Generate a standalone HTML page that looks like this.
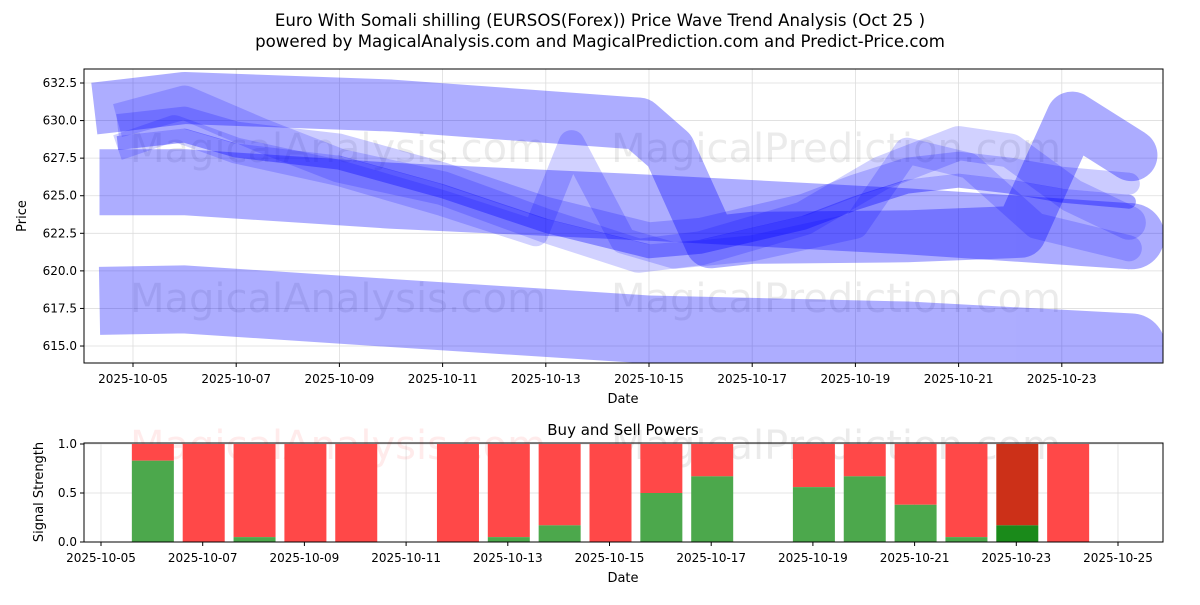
<!DOCTYPE html>
<html><head><meta charset="utf-8"><style>
body{margin:0;background:#fff;}
svg text{font-family:"DejaVu Sans","Liberation Sans",sans-serif;}
</style></head><body>
<svg id="c" width="1200" height="600" xmlns="http://www.w3.org/2000/svg">
<rect width="1200" height="600" fill="#fff"/>
<text x="600" y="26" text-anchor="middle" font-size="16.6">Euro With Somali shilling (EURSOS(Forex)) Price Wave Trend Analysis (Oct 25 )</text>
<text x="600" y="47" text-anchor="middle" font-size="16.6">powered by MagicalAnalysis.com and MagicalPrediction.com and Predict-Price.com</text>
<g id="topg"></g><g id="botg"></g>
</svg>
<script>
// ---- data ----
const topTickDays=[0,2,4,6,8,10,12,14,16,18];
const topTickLabels=["2025-10-05","2025-10-07","2025-10-09","2025-10-11","2025-10-13","2025-10-15","2025-10-17","2025-10-19","2025-10-21","2025-10-23"];
const priceTicks=[615.0,617.5,620.0,622.5,625.0,627.5,630.0,632.5];
const bandLowDays=[-0.65,1,5,10,15,19.35];
const bandLowVals=[618.0,618.1,617.2,616.1,615.7,614.9];
const bandMidDays=[-0.65,1,5,10,15,19.35];
const bandMidVals=[625.9,625.9,625.0,624.2,623.3,622.3];
const bandTopDays=[-0.75,1,5,9.8,10.4,11.2,12,15,17.2,18.2,19.35];
const bandTopVals=[630.8,631.5,631.0,629.8,628.0,621.9,622.2,622.3,622.6,630.2,627.7];
const waveADays=[-0.3,1,2.5,4,6,8,9.8,11,13,14.5,16,17,18.2,19.3];
const waveAVals=[630.0,631.2,629.0,627.0,625.5,623.0,621.0,621.5,623.5,626.5,628.5,628.0,625.0,623.2];
const waveBDays=[-0.3,0.8,2,4,6,7.8,8.5,9.5,10.5,12,14,15,16.2,17.5,19.3];
const waveBVals=[628.2,629.5,628.0,626.5,624.5,622.5,628.5,622.0,621.0,621.5,623.0,628.0,627.0,623.0,621.5];
const trendDays=[-0.3,1,2,4,6,8,10,11,13,14,15,16,17,18,19.3];
const trendVals=[628.5,629.0,628.0,627.2,625.3,623.0,621.3,621.6,623.2,624.5,625.6,626.0,625.6,625.0,624.6];
const barDays=[1,2,3,4,5,7,8,9,10,11,12,14,15,16,17,18,19];
const buyVals=[0.83,0,0.05,0,0,0,0.05,0.17,0,0.5,0.67,0.56,0.67,0.38,0.05,0.17,0];
const botTickDays=[0,2,4,6,8,10,12,14,16,18,20];
const botTickLabels=["2025-10-05","2025-10-07","2025-10-09","2025-10-11","2025-10-13","2025-10-15","2025-10-17","2025-10-19","2025-10-21","2025-10-23","2025-10-25"];
const strengthTicks=[0.0,0.5,1.0];
// ---- axes ----
const NS="http://www.w3.org/2000/svg";
const xT=d=>133+d*51.6, yT=v=>83+(632.5-v)*15.03;
const xB=d=>101+d*50.85, yB=v=>542-v*98;
function mk(p,tag,at,txt){const e=document.createElementNS(NS,tag);for(const k in at)e.setAttribute(k,at[k]);if(txt!==undefined)e.textContent=txt;p.appendChild(e);return e;}
const topG=document.getElementById('topg'), botG=document.getElementById('botg');
topTickDays.forEach((d,i)=>{
 const g=mk(topG,'line',{x1:xT(d),x2:xT(d),y1:69,y2:363,stroke:'#ddd','stroke-width':0.8});
 
 
 mk(topG,'line',{x1:xT(d),x2:xT(d),y1:363,y2:367,stroke:'#000'});
 const t=mk(topG,'text',{x:xT(d),y:383,'text-anchor':'middle','font-size':12},topTickLabels[i]);
 
 
});
priceTicks.forEach(v=>{
 mk(topG,'line',{x1:84,x2:1163,y1:yT(v),y2:yT(v),stroke:'#ddd','stroke-width':0.8});
 mk(topG,'line',{x1:80,x2:84,y1:yT(v),y2:yT(v),stroke:'#000'});
 const t=mk(topG,'text',{x:77,y:yT(v)+4,'text-anchor':'end','font-size':12},v.toFixed(1));
 
 
});
[[338,148],[836,148],[338,298],[836,298]].forEach(p=>{
 const w=mk(topG,'text',{x:p[0],y:p[1]+14,'text-anchor':'middle','font-size':40,fill:'#000','fill-opacity':0.08},p[0]<500?'MagicalAnalysis.com':'MagicalPrediction.com');
 
 
});
const clip=mk(topG,'clipPath',{id:'cp'});mk(clip,'rect',{x:84,y:69,width:1079,height:294});
const series=mk(topG,'g',{'clip-path':'url(#cp)'});
function line(days,vals,w,op,name){
 const g=mk(series,'g',{opacity:op});
 
 
 const d=days.map((x,i)=>(i?'L':'M')+xT(x).toFixed(1)+','+yT(vals[i]).toFixed(1)).join(' ');
 mk(g,'path',{d:d,fill:'none',stroke:'#0000ff','stroke-width':w,'stroke-linejoin':'round','stroke-linecap':'butt'});
 const n=days.length-1;
 mk(g,'circle',{cx:xT(days[n]),cy:yT(vals[n]),r:w/2,fill:'#0000ff'});
}
line(bandLowDays,bandLowVals,68,0.32,'wave-band-low');
line(bandMidDays,bandMidVals,66,0.32,'wave-band-mid');
line(bandTopDays,bandTopVals,52,0.32,'wave-band-top');
line(waveADays,waveAVals,34,0.18,'wave-a');
line(waveBDays,waveBVals,26,0.18,'wave-b');
line(trendDays,trendVals.map(v=>v+1.2),22,0.2,'wave-c');
line(trendDays,trendVals,14,0.35,'trend-line');
mk(topG,'rect',{x:84,y:69,width:1079,height:294,fill:'none',stroke:'#000','stroke-width':1});
const xl=mk(topG,'text',{x:623,y:403,'text-anchor':'middle','font-size':13},'Date');

const yl=mk(topG,'text',{x:26,y:216,'text-anchor':'middle','font-size':13,transform:'rotate(-90 26 216)'},'Price');

const bt=mk(botG,'text',{x:623,y:435,'text-anchor':'middle','font-size':15},'Buy and Sell Powers');

botTickDays.forEach((d,i)=>{
 mk(botG,'line',{x1:xB(d),x2:xB(d),y1:443,y2:542,stroke:'#ddd','stroke-width':0.8});
 mk(botG,'line',{x1:xB(d),x2:xB(d),y1:542,y2:546,stroke:'#000'});
 const t=mk(botG,'text',{x:xB(d),y:562,'text-anchor':'middle','font-size':12},botTickLabels[i]);
 
});
strengthTicks.forEach(v=>{
 mk(botG,'line',{x1:84,x2:1163,y1:yB(v),y2:yB(v),stroke:'#ddd','stroke-width':0.8});
 mk(botG,'line',{x1:80,x2:84,y1:yB(v),y2:yB(v),stroke:'#000'});
 const t=mk(botG,'text',{x:77,y:yB(v)+4,'text-anchor':'end','font-size':12},v.toFixed(1));
 
});
mk(botG,'text',{x:338,y:459,'text-anchor':'middle','font-size':40,'fill-opacity':0.08,fill:'#f00'},'MagicalAnalysis.com');
mk(botG,'text',{x:836,y:459,'text-anchor':'middle','font-size':40,'fill-opacity':0.08},'MagicalPrediction.com');
barDays.forEach((d,i)=>{
 const x=xB(d)-20, b=buyVals[i], dark=(d===18);
 const r=mk(botG,'rect',{x:x,y:yB(1),width:42,height:yB(b)-yB(1),fill:dark?'#cc3018':'#ff4848'});
 
 const g=mk(botG,'rect',{x:x,y:yB(b),width:42,height:yB(0)-yB(b),fill:dark?'#1a8a1a':'#4ca84c'});
 
});
mk(botG,'rect',{x:84,y:443,width:1079,height:99,fill:'none',stroke:'#000'});
const bx=mk(botG,'text',{x:623,y:582,'text-anchor':'middle','font-size':13},'Date');

const by=mk(botG,'text',{x:43,y:492,'text-anchor':'middle','font-size':13,transform:'rotate(-90 43 492)'},'Signal Strength');

</script>
</body></html>
